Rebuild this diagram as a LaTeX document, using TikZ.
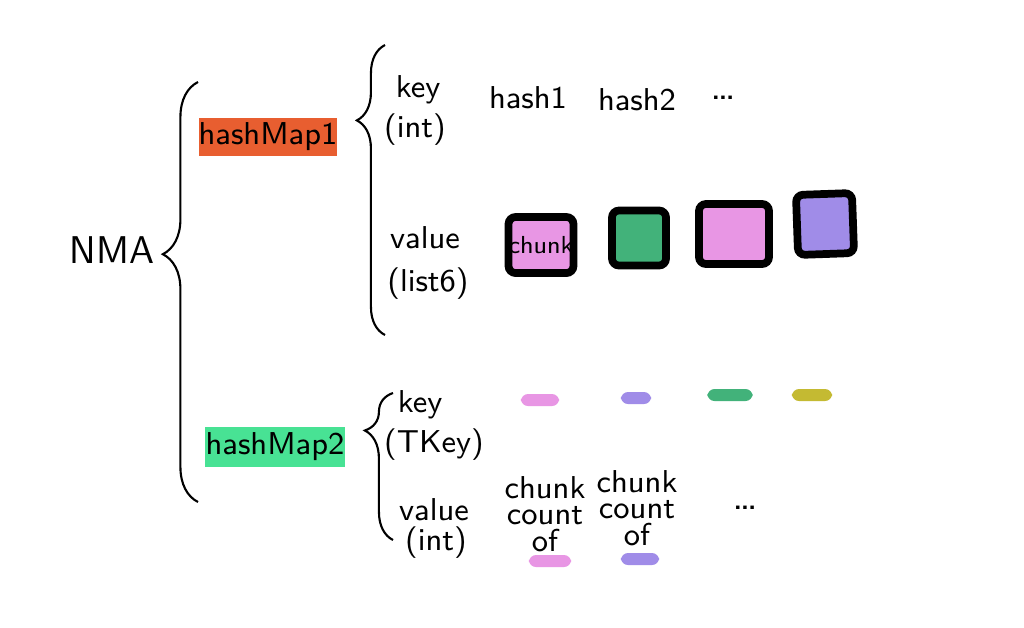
\documentclass[tikz,border=0pt]{standalone}
\usepackage{tikz}
\usetikzlibrary{positioning,decorations.pathreplacing}
\definecolor{cOrange}{RGB}{232,94,48}
\definecolor{cMint}{RGB}{72,226,148}
\definecolor{cPink}{RGB}{232,150,228}
\definecolor{cGreen}{RGB}{66,178,122}
\definecolor{cPurple}{RGB}{160,140,232}
\definecolor{cOlive}{RGB}{196,186,50}

\begin{document}
\begin{tikzpicture}[x=0.01cm,y=-0.01cm,
  lbl/.style={font=\sffamily\fontsize{9}{10}\selectfont,inner sep=1pt},
  hilite/.style={fill=#1,font=\sffamily\fontsize{9}{10}\selectfont,inner sep=0pt},
  brc/.style 2 args={decorate,decoration={brace,amplitude=#1,aspect=#2},line width=0.6pt},
  chunkbox/.style={draw=black,line width=2.2pt,rounded corners=2pt,fill=#1,inner sep=0pt},
  swatch/.style={fill=#1,rounded corners=2pt,minimum height=0.12cm,inner sep=0pt}
]
  \useasboundingbox[fill=white] (0,0) rectangle (1024,627);

  % root
  \node[lbl,font=\sffamily\fontsize{11}{12}\selectfont] (nma) at (112,250) {NMA};
  \coordinate (b1s) at (198,502);
  \coordinate (b1e) at (198,82);
  \draw[brc={10pt}{0.59}] (b1s) -- (b1e);

  % first map
  \node[hilite=cOrange,minimum width=1.35cm,minimum height=0.37cm] (hm1) at (268,137) {hashMap1};
  \coordinate (b2s) at (385,335);
  \coordinate (b2e) at (385,45);
  \draw[brc={8pt}{0.74}] (b2s) -- (b2e);
  \node[lbl] (key1) at (418,90) {key};
  \node[lbl] (int1) at (415,130) {(int)};
  \node[lbl] (hash1) at (528,98) {hash1};
  \node[lbl] (hash2) at (637,100) {hash2};
  \node[lbl,font=\sffamily\fontsize{12}{12}\selectfont] (dots1) at (723,98) {\ldots};
  \node[lbl] (val1) at (425,238) {value};
  \node[lbl] (lst) at (428,284) {(list6)};

  \node[chunkbox=cPink,minimum width=0.59cm,minimum height=0.56cm] (c1) at (541,245) {\sffamily\fontsize{7}{8}\selectfont chunk};
  \node[chunkbox=cGreen,minimum width=0.54cm,minimum height=0.55cm] (c2) at (639,238) {};
  \node[chunkbox=cPink,minimum width=0.70cm,minimum height=0.60cm] (c3) at (734,234) {};
  \node[chunkbox=cPurple,minimum width=0.56cm,minimum height=0.60cm,rotate=2] (c4) at (825,224) {};

  % second map
  \node[hilite=cMint,minimum width=1.40cm,minimum height=0.40cm] (hm2) at (275,447) {hashMap2};
  \coordinate (b3s) at (393,540);
  \coordinate (b3e) at (393,393);
  \draw[brc={8pt}{0.745}] (b3s) -- (b3e);
  \node[lbl] (key2) at (420,405) {key};
  \node[lbl] (tkey) at (434,445) {(TKey)};
  \node[lbl] (val2) at (434,510) {value};
  \node[lbl] (int2) at (436,543) {(int)};

  \node[swatch=cPink,minimum width=0.38cm] (s1) at (540,400) {};
  \node[swatch=cPurple,minimum width=0.30cm] (s2) at (636,398) {};
  \node[swatch=cGreen,minimum width=0.45cm] (s3) at (730,395) {};
  \node[swatch=cOlive,minimum width=0.40cm] (s4) at (812,395) {};

  \node[lbl,align=center,font=\sffamily\fontsize{9}{7.5}\selectfont] (cnt1) at (545,514) {chunk\\count\\of};
  \node[lbl,align=center,font=\sffamily\fontsize{9}{7.5}\selectfont] (cnt2) at (637,508) {chunk\\count\\of};
  \node[swatch=cPink,minimum width=0.42cm] (s5) at (550,561) {};
  \node[swatch=cPurple,minimum width=0.38cm] (s6) at (640,559) {};
  \node[lbl,font=\sffamily\fontsize{12}{12}\selectfont] (dots2) at (745,508) {\ldots};
\end{tikzpicture}
\end{document}
